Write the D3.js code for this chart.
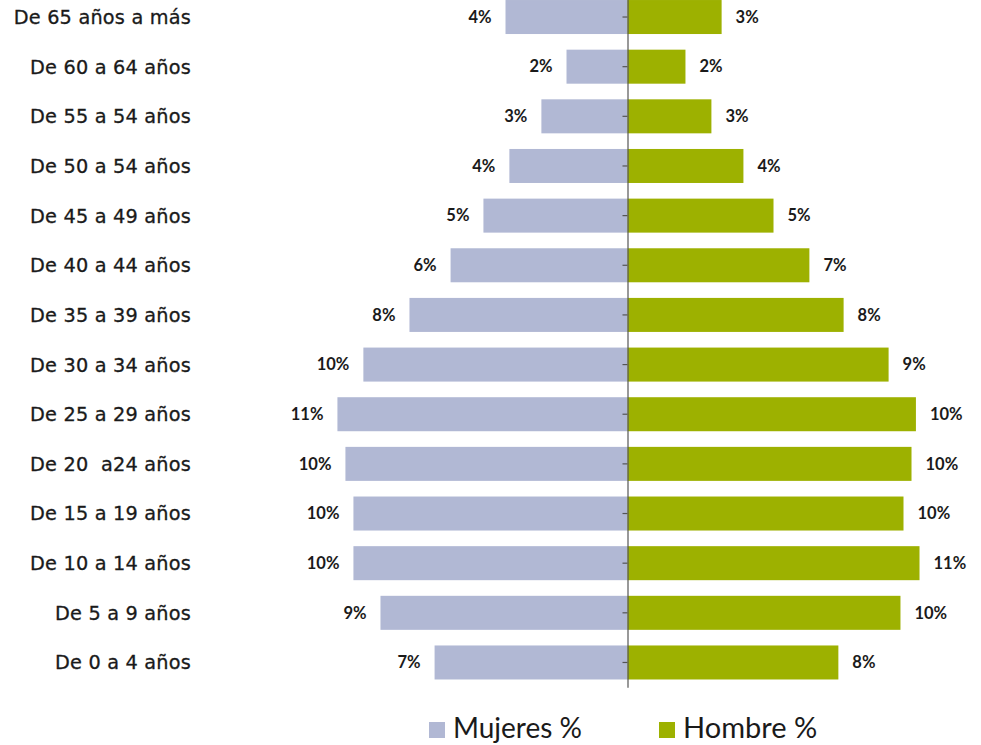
<!DOCTYPE html>
<html>
<head>
<meta charset="utf-8">
<script src="https://cdn.jsdelivr.net/npm/d3@7"></script>
<style>
  html, body { margin: 0; padding: 0; background: #fff; }
  svg { display: block; }
  text { font-family: Lato, "Open Sans", sans-serif; fill: #1a1a1a; }
  text.cat { font-family: "DejaVu Sans", sans-serif; stroke: #1a1a1a; stroke-width: 0.3px; letter-spacing: 0.2px; }
</style>
</head>
<body>
<svg id="chart" width="981" height="745"></svg>
<script>
const categories = [
  "De 65 años a más", "De 60 a 64 años", "De 55 a 54 años", "De 50 a 54 años",
  "De 45 a 49 años", "De 40 a 44 años", "De 35 a 39 años", "De 30 a 34 años",
  "De 25 a 29 años", "De 20  a24 años", "De 15 a 19 años", "De 10 a 14 años",
  "De 5 a 9 años", "De 0 a 4 años"
];
const mujeres = [4.42, 2.21, 3.12, 4.28, 5.22, 6.41, 7.90, 9.57, 10.51, 10.22, 9.93, 9.93, 8.95, 6.99];
const hombres = [3.41, 2.10, 3.04, 4.20, 5.29, 6.59, 7.83, 9.46, 10.45, 10.29, 10.00, 10.58, 9.89, 7.64];
const seriesNames = ["Mujeres %", "Hombre %"];
const colors = ["#b1b8d4", "#9db100"];

const svg = d3.select("#chart");
const cx = 627.5, k = 27.6;
const x = d3.scaleLinear().domain([-12, 12]).range([cx - 12 * k, cx + 12 * k]);
const y = d3.scaleBand().domain(categories).range([-7.8, 687.3])
  .paddingInner(0.315).paddingOuter(0.1575);

const fmt = v => Math.round(v) + "%";

// Mujeres bars (left)
svg.append("g").selectAll("rect").data(categories).join("rect")
  .attr("x", (d, i) => x(-mujeres[i]))
  .attr("y", d => y(d))
  .attr("width", (d, i) => x(0) - x(-mujeres[i]))
  .attr("height", y.bandwidth())
  .attr("fill", colors[0]);

// Hombre bars (right)
svg.append("g").selectAll("rect").data(categories).join("rect")
  .attr("x", x(0))
  .attr("y", d => y(d))
  .attr("width", (d, i) => x(hombres[i]) - x(0))
  .attr("height", y.bandwidth())
  .attr("fill", colors[1]);

// value labels
const lblSize = 16.5;
svg.append("g").selectAll("text").data(categories).join("text")
  .attr("x", (d, i) => x(-mujeres[i]) - 14)
  .attr("y", d => y(d) + y.bandwidth() / 2)
  .attr("dy", "0.35em")
  .attr("text-anchor", "end")
  .attr("font-size", lblSize)
  .attr("font-weight", "bold")
  .text((d, i) => fmt(mujeres[i]));

svg.append("g").selectAll("text").data(categories).join("text")
  .attr("x", (d, i) => x(hombres[i]) + 14)
  .attr("y", d => y(d) + y.bandwidth() / 2)
  .attr("dy", "0.35em")
  .attr("text-anchor", "start")
  .attr("font-size", lblSize)
  .attr("font-weight", "bold")
  .text((d, i) => fmt(hombres[i]));

// category labels
svg.append("g").selectAll("text").data(categories).join("text")
  .attr("class", "cat")
  .attr("x", 191)
  .attr("y", d => y(d) + y.bandwidth() / 2)
  .attr("dy", "0.36em")
  .attr("text-anchor", "end")
  .attr("font-size", 19.3)
  .style("white-space", "pre")
  .text(d => d);

// center axis
const axis = d3.axisLeft(y).tickSize(5).tickSizeOuter(0).tickFormat("");
const ag = svg.append("g").attr("transform", `translate(${cx},0)`).call(axis);
ag.selectAll("path, line").attr("stroke", "#555").attr("stroke-width", 1.2);

// legend
const legend = svg.append("g");
const legX = [429, 659];
seriesNames.forEach((name, i) => {
  legend.append("rect").attr("x", legX[i]).attr("y", 722).attr("width", 16).attr("height", 16).attr("fill", colors[i]);
  legend.append("text").attr("x", legX[i] + 24).attr("y", 738)
    .attr("font-size", i === 0 ? 28 : 29).text(name);
});
</script>
</body>
</html>
